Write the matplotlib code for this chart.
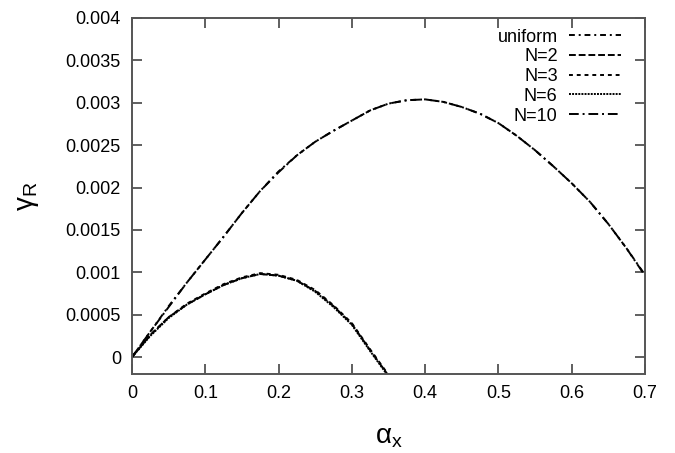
import matplotlib
matplotlib.use("Agg")
import matplotlib.pyplot as plt
from matplotlib.ticker import FormatStrFormatter

plt.rcParams['font.family'] = ['Liberation Sans', 'DejaVu Sans']
plt.rcParams['mathtext.default'] = 'regular'

# upper curves (uniform, N=10)
x_up = [0, 0.025, 0.05, 0.075, 0.1, 0.125, 0.15, 0.175, 0.2, 0.225, 0.25, 0.275, 0.3,
        0.325, 0.35, 0.375, 0.4, 0.425, 0.45, 0.475, 0.5, 0.525, 0.55, 0.575, 0.6,
        0.625, 0.65, 0.675, 0.7]
uniform = [0, 0.00030, 0.00060, 0.00088, 0.00115, 0.00142, 0.00170, 0.00196, 0.00219,
           0.00238, 0.00254, 0.00267, 0.00279, 0.00291, 0.00299, 0.00303, 0.00304,
           0.00301, 0.00295, 0.00287, 0.00276, 0.00261, 0.00244, 0.00225, 0.00205,
           0.00183, 0.00157, 0.00128, 0.00097]
n10 = [0, 0.00030, 0.00059, 0.00088, 0.00115, 0.00142, 0.00170, 0.00196, 0.00218,
       0.00238, 0.00254, 0.00267, 0.00279, 0.00291, 0.00299, 0.00303, 0.00304,
       0.00301, 0.00295, 0.00287, 0.00276, 0.00261, 0.00244, 0.00225, 0.00205,
       0.00183, 0.00157, 0.00128, 0.00096]

# lower curves (N=2, N=3, N=6)
x_lo = [0, 0.025, 0.05, 0.075, 0.1, 0.125, 0.15, 0.175, 0.2, 0.225, 0.25, 0.275, 0.3,
        0.325, 0.35]
n2 = [0, 0.00026, 0.00047, 0.00062, 0.00074, 0.00085, 0.00093, 0.00098, 0.00096,
      0.00090, 0.00078, 0.00060, 0.00039, 0.00008, -0.00022]
n3 = [0, 0.00026, 0.00047, 0.00063, 0.00075, 0.00086, 0.00094, 0.00099, 0.00097,
      0.00091, 0.00079, 0.00061, 0.00040, 0.00009, -0.00021]
n6 = [0, 0.00025, 0.00046, 0.00062, 0.00074, 0.00085, 0.00093, 0.00098, 0.00096,
      0.00090, 0.00077, 0.00059, 0.00038, 0.00007, -0.00023]

xticks = [0, 0.1, 0.2, 0.3, 0.4, 0.5, 0.6, 0.7]
yticks = [0, 0.0005, 0.001, 0.0015, 0.002, 0.0025, 0.003, 0.0035, 0.004]

fig = plt.figure(figsize=(6.75, 4.53), dpi=100)
ax = fig.add_axes([132/675, 1-374/453, (645-132)/675, (374-18)/453])

lw = 1.4
ax.plot(x_up, uniform, color='black', lw=lw, dashes=(3, 2, 1, 2), label='uniform')
ax.plot(x_lo, n2, color='black', lw=lw, dashes=(3.5, 1.5), label='N=2')
ax.plot(x_lo, n3, color='black', lw=lw, dashes=(2, 2), label='N=3')
ax.plot(x_lo, n6, color='black', lw=lw, dashes=(1, 0.6), label='N=6')
ax.plot(x_up, n10, color='black', lw=lw, dashes=(5, 2, 1, 2), label='N=10')

ax.set_xlim(0, 0.7)
ax.set_ylim(-0.0002, 0.004)
ax.set_xticks(xticks)
ax.set_yticks(yticks)
ax.xaxis.set_major_formatter(FormatStrFormatter('%g'))
ax.yaxis.set_major_formatter(FormatStrFormatter('%g'))
ax.tick_params(direction='in', length=7, width=1.2, top=True, right=True,
               labelsize=13, pad=8, colors='#444444', labelcolor='black')
for s in ax.spines.values():
    s.set_color('#555555')
    s.set_linewidth(1.4)

ax.set_xlabel(r'$\alpha_x$', fontsize=20, labelpad=16)
ax.set_ylabel(r'$\gamma_R$', fontsize=20, labelpad=18)

ax.legend(loc='upper right', bbox_to_anchor=(0.953, 0.97), frameon=False,
          markerfirst=False, fontsize=13, handlelength=2.9, labelspacing=0.15,
          borderaxespad=0, borderpad=0, handletextpad=0.6)

fig.savefig('out.png', dpi=100)
